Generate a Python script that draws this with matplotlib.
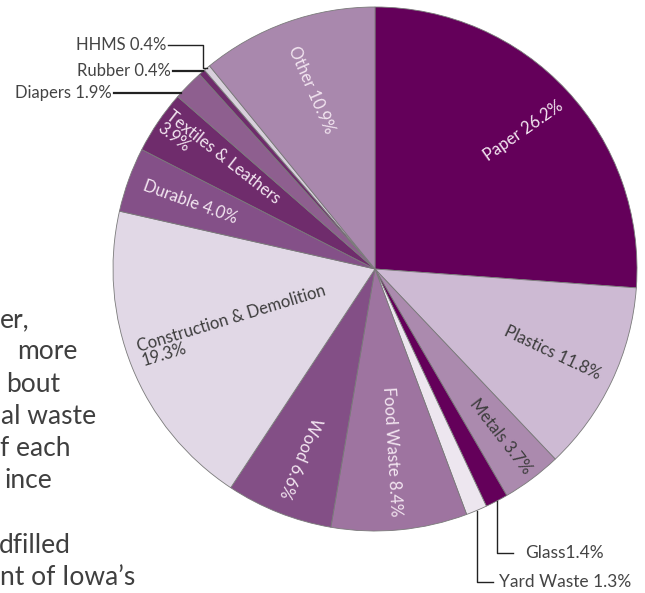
import numpy as np
import matplotlib.pyplot as plt

# waste composition (percent of landfilled material)
categories = ['Paper', 'Plastics', 'Metals', 'Glass', 'Yard Waste', 'Food Waste', 'Wood',
              'Construction & Demolition', 'Durable', 'Textiles & Leathers', 'Diapers',
              'Rubber', 'HHMS', 'Other']
shares = [26.2, 11.8, 3.7, 1.4, 1.3, 8.4, 6.6, 19.3, 4.0, 3.9, 1.9, 0.4, 0.4, 10.9]
colors = ['#64005a', '#cdbad3', '#ab8aae', '#64005a', '#ede6ef', '#9e74a0', '#834f86',
          '#e1d8e6', '#845088', '#6f2c6c', '#8e5f8f', '#6f2c6c', '#d8d0dc', '#a988ad']

# fragments of the paragraph cut off at the left edge
paragraph = ['er,', 'more', 'bout', 'al waste', 'f each', 'ince', '', 'dfilled', 'nt of Iowa\u2019s']

W, H = 645, 593
FONT = 'Lato'

fig = plt.figure(figsize=(W / 100, H / 100), dpi=100)
ax = fig.add_axes([0, 0, 1, 1])

cx, cy, R = 375, 324, 262
wedges, _ = ax.pie(shares, colors=colors, startangle=90, counterclock=False,
                   center=(cx, cy), radius=R,
                   wedgeprops=dict(edgecolor='#7a7a7a', linewidth=0.6))
ax.set_xlim(0, W)
ax.set_ylim(0, H)
ax.set_aspect('equal')
ax.axis('off')


def mid(w):
    return (w.theta1 + w.theta2) / 2


def on_circle(ang, r):
    a = np.deg2rad(ang)
    return cx + r * np.cos(a), cy + r * np.sin(a)


# inside labels: radius fraction, rotation offset, flip, text colour, line break
inside = {
    'Paper': (0.775, -8, False, '#f3e6f1', False),
    'Plastics': (0.75, 0, False, '#3c3c3c', False),
    'Metals': (0.80, 1, False, '#3c3c3c', False),
    'Food Waste': (0.70, -2, False, '#f3e6f1', False),
    'Wood': (0.775, -1, False, '#f3e6f1', False),
    'Construction & Demolition': (0.58, -5, True, '#3c3c3c', True),
    'Durable': (0.75, 0, True, '#f3e6f1', False),
    'Textiles & Leathers': (0.72, -4, True, '#f3e6f1', True),
    'Other': (0.725, 4, True, '#f3e6f1', False),
}
for w, name, val in zip(wedges, categories, shares):
    if name not in inside:
        continue
    rf, rot_off, flip, tc, brk = inside[name]
    m = mid(w)
    x, y = on_circle(m, rf * R)
    rot = m + rot_off + (180 if flip else 0)
    txt = f'{name}\n{val}%' if brk else f'{name} {val}%'
    ax.text(x, y, txt, rotation=rot, rotation_mode='anchor', ha='center', va='center',
            multialignment='left', color=tc, fontsize=12, family=FONT,
            linespacing=0.95)

# outside labels with leader lines
lc = '#222222'
tcol = '#444444'
idx = {n: i for i, n in enumerate(categories)}


def edge_pt(name, frac):
    w = wedges[idx[name]]
    return on_circle(w.theta1 + frac * (w.theta2 - w.theta1), R)


# left side, top
ex, ey = edge_pt('HHMS', 0.5)
ty = H - 45
ax.plot([168, ex - 4, ex - 4, ex], [ty, ty, ey, ey], color=lc, lw=1.0)
ax.text(166, ty, f'HHMS {shares[idx["HHMS"]]}%', ha='right', va='center',
        color=tcol, fontsize=12, family=FONT)

ex, ey = edge_pt('Rubber', 0.3)
ax.plot([173, ex], [ey, ey], color=lc, lw=1.6)
ax.text(171, ey, f'Rubber {shares[idx["Rubber"]]}%', ha='right', va='center',
        color=tcol, fontsize=12, family=FONT)

ex, ey = edge_pt('Diapers', 0.85)
ax.plot([114, ex], [ey, ey], color=lc, lw=1.6)
ax.text(112, ey, f'Diapers {shares[idx["Diapers"]]}%', ha='right', va='center',
        color=tcol, fontsize=12, family=FONT)

# bottom right
ex, ey = edge_pt('Glass', 0.5)
ty = H - 553
ax.plot([ex, ex, 513], [ey, ty, ty], color=lc, lw=1.0)
ax.text(525, ty, f'Glass{shares[idx["Glass"]]}%', ha='left', va='center',
        color=tcol, fontsize=12.5, family=FONT)

ex, ey = edge_pt('Yard Waste', 0.5)
ty = H - 582
ax.plot([ex, ex, 493], [ey, ty, ty], color=lc, lw=1.0)
ax.text(499, ty, f'Yard Waste {shares[idx["Yard Waste"]]}%', ha='left', va='center',
        color=tcol, fontsize=12.5, family=FONT)

# paragraph text cut at the left edge
para_x = [0, 17, 6, 1, 0, 5, 0, -1, 0]
for i, line in enumerate(paragraph):
    ax.text(para_x[i], H - (327 + 32.3 * i), line, ha='left', va='baseline',
            color='#3f3f3f', fontsize=19, family=FONT)

fig.savefig('out.png', dpi=100)
